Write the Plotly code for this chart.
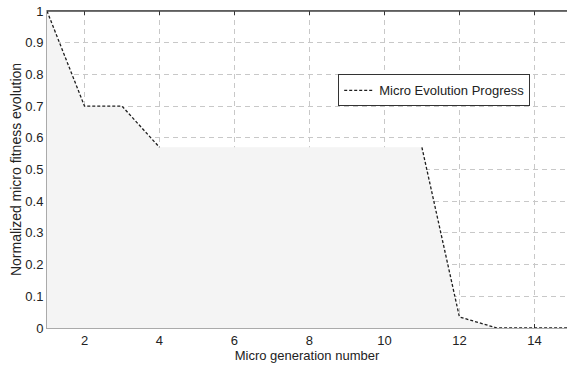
import plotly.graph_objects as go

# Micro evolution run: normalized fitness per micro generation
generations = [1, 2, 3, 4, 5, 6, 7, 8, 9, 10, 11, 12, 13, 14, 15]
fitness = [1.0, 0.70, 0.70, 0.57, 0.57, 0.57, 0.57, 0.57, 0.57, 0.57, 0.57, 0.035, 0.0, 0.0, 0.0]

x_ticks = [2, 4, 6, 8, 10, 12, 14]
y_ticks = [0, 0.1, 0.2, 0.3, 0.4, 0.5, 0.6, 0.7, 0.8, 0.9, 1]
y_tick_text = ["0", "0.1", "0.2", "0.3", "0.4", "0.5", "0.6", "0.7", "0.8", "0.9", "1"]

font_family = "Liberation Sans, Arial, sans-serif"

# The edge stroke is not drawn along the long plateau (generations 4..11)
plateau_start, plateau_end = 4, 11
edge_y = [None if plateau_start < g < plateau_end else v for g, v in zip(generations, fitness)]

fig = go.Figure()
# filled area under the fitness curve
fig.add_trace(go.Scatter(
    x=generations,
    y=fitness,
    mode="lines",
    fill="tozeroy",
    fillcolor="#f4f4f4",
    line=dict(color="#f4f4f4", width=0),
    showlegend=False,
    hoverinfo="skip",
))
# dashed edge of the area
fig.add_trace(go.Scatter(
    x=generations,
    y=edge_y,
    mode="lines",
    connectgaps=False,
    line=dict(color="#1e1e1e", width=1.3, dash="3px,2px"),
    name="Micro Evolution Progress",
    cliponaxis=False,
))

fig.update_layout(
    width=567,
    height=367,
    margin=dict(l=47, r=0, t=11, b=39),
    paper_bgcolor="white",
    plot_bgcolor="white",
    font=dict(family=font_family, size=13, color="#222222"),
    showlegend=True,
    legend=dict(
        x=0.56, y=0.80, xanchor="left", yanchor="top",
        bgcolor="white", bordercolor="#333333", borderwidth=1,
        font=dict(size=13, color="#222222"),
        itemwidth=30,
        tracegroupgap=0,
    ),
    xaxis=dict(
        range=[1, 14.87],
        tickvals=x_ticks,
        ticks="inside", ticklen=4, tickcolor="#333333",
        showgrid=True, gridcolor="#c8c8c8", griddash="5px,4px", gridwidth=1,
        showline=True, linecolor="#aaaaaa", linewidth=1, mirror="ticks",
        zeroline=False,
        layer="below traces",
        title=dict(text="Micro generation number", standoff=0, font=dict(size=13)),
        tickfont=dict(size=13),
    ),
    yaxis=dict(
        range=[0, 1],
        tickvals=y_ticks,
        ticktext=y_tick_text,
        ticks="inside", ticklen=4, tickcolor="#333333",
        showgrid=True, gridcolor="#c8c8c8", griddash="5px,4px", gridwidth=1,
        showline=True, linecolor="#aaaaaa", linewidth=1,
        zeroline=False,
        layer="below traces",
        title=dict(text="Normalized micro fitness evolution", standoff=0, font=dict(size=14)),
        tickfont=dict(size=13),
    ),
    shapes=[
        # dark frame line along the top of the axes box
        dict(type="line", xref="paper", yref="paper", x0=0, x1=1, y0=1, y1=1,
             line=dict(color="#444444", width=1.5)),
    ],
)

fig.write_html("out.html")
